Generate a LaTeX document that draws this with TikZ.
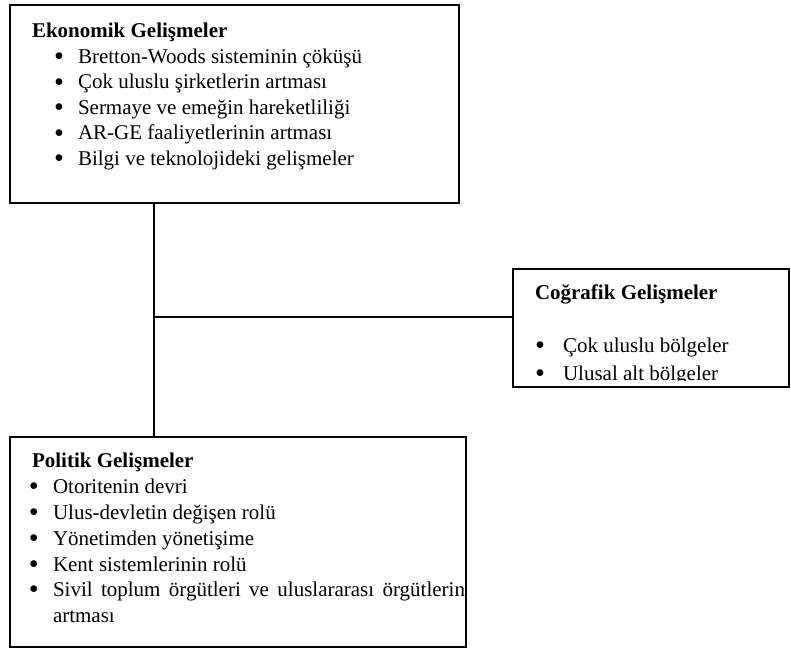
\documentclass[tikz,border=0pt]{standalone}
\usepackage{fontspec}
\setmainfont{Liberation Serif}
\newcommand{\bigbul}{\raisebox{-1.5pt}{\fontsize{17pt}{17pt}\selectfont •}}
\begin{document}
\begin{tikzpicture}[x=0.6pt,y=-0.6pt,
  box/.style={draw=black, line width=1.2pt, inner sep=0pt, outer sep=0pt},
  conn/.style={draw=black, line width=1.2pt},
  txt/.style={anchor=base west, inner sep=0pt, outer sep=0pt, text height=9pt, text depth=2.5pt, font=\fontsize{12.6pt}{15pt}\selectfont},
  head/.style={txt, font=\fontsize{12.6pt}{15pt}\selectfont\bfseries},
  bul/.style={txt}]
\useasboundingbox (0,0) rectangle (791,650);

% boxes
\node[box, minimum width=269.4pt, minimum height=118.8pt] (eko) at (234.5,104) {};
\node[box, minimum width=165.6pt, minimum height=70.8pt] (cog) at (651,328) {};
\node[box, minimum width=273.6pt, minimum height=126pt] (pol) at (238,542) {};

% connectors
\coordinate (jx) at (154,317);
\draw[conn] (jx |- eko.south) -- (jx |- pol.north);
\draw[conn] (jx) -- (jx -| cog.west);

% Ekonomik
\node[head] (ekoh) at (32,37) {Ekonomik Gelişmeler};
\node[bul] (eb1) at (54,63) {\bigbul};
\node[txt] (e1) at (78,63) {Bretton-Woods sisteminin çöküşü};
\node[bul] (eb2) at (54,88.5) {\bigbul};
\node[txt] (e2) at (78,88.5) {Çok uluslu şirketlerin artması};
\node[bul] (eb3) at (54,114) {\bigbul};
\node[txt] (e3) at (78,114) {Sermaye ve emeğin hareketliliği};
\node[bul] (eb4) at (54,139.5) {\bigbul};
\node[txt] (e4) at (78,139.5) {AR-GE faaliyetlerinin artması};
\node[bul] (eb5) at (54,165) {\bigbul};
\node[txt] (e5) at (78,165) {Bilgi ve teknolojideki gelişmeler};

% Cografik
\node[head] (cogh) at (535,299) {Coğrafik Gelişmeler};
\node[bul] (cb1) at (535,352) {\bigbul};
\node[txt] (c1) at (563,352) {Çok uluslu bölgeler};
\begin{scope}
  \clip (513,355) rectangle (789,380.5);
  \node[bul] (cb2) at (535,380) {\bigbul};
  \node[txt] (c2) at (563,380) {Ulusal alt bölgeler};
\end{scope}

% Politik
\node[head] (polh) at (32,467) {Politik Gelişmeler};
\node[bul] (pb1) at (29,493) {\bigbul};
\node[txt] (p1) at (53,493) {Otoritenin devri};
\node[bul] (pb2) at (29,519) {\bigbul};
\node[txt] (p2) at (53,519) {Ulus-devletin değişen rolü};
\node[bul] (pb3) at (29,545) {\bigbul};
\node[txt] (p3) at (53,545) {Yönetimden yönetişime};
\node[bul] (pb4) at (29,571) {\bigbul};
\node[txt] (p4) at (53,571) {Kent sistemlerinin rolü};
\node[bul] (pb5) at (29,596) {\bigbul};
\node[txt] (p5) at (53,596) {\makebox[247.2pt][s]{Sivil toplum örgütleri ve uluslararası örgütlerin}};
\node[txt] (p6) at (53,622) {artması};
\end{tikzpicture}
\end{document}
